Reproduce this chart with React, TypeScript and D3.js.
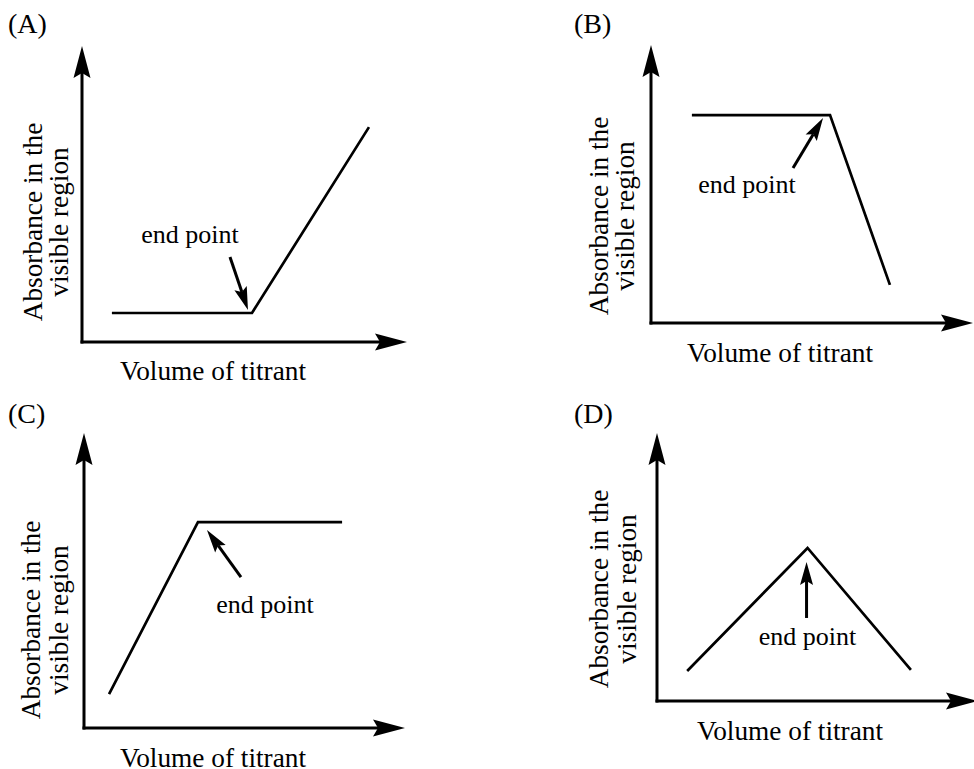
import React from 'react'
import * as d3 from 'd3'

// four sketches of absorbance vs. volume of titrant, axis units 0-10
const panelIds = ['A', 'B', 'C', 'D']

const volA = [0.92, 5.23, 8.83]
const absA = [0.98, 0.98, 7.26]

const volB = [1.27, 5.56, 7.42]
const absB = [7.48, 7.48, 1.37]

const volC = [0.78, 3.55, 8.04]
const absC = [1.15, 6.98, 6.98]

const volD = [0.94, 4.69, 7.91]
const absD = [1.12, 5.71, 1.16]

// which point of each curve is the end point
const endIndex = [1, 1, 1, 1]

const xLabel = 'Volume of titrant'
const yLabelLines = ['Absorbance in the', 'visible region']
const endLabel = 'end point'

const volumes = [volA, volB, volC, volD]
const absorbances = [absA, absB, absC, absD]

const FONT = "'Liberation Serif', 'DejaVu Serif', serif"

// layout of each panel (pixels)
const layouts = [
  { ox: 82, oy: 342, xTip: 407, yTip: 46, lx: 8, ly: 33, yl1: 40, yl2: 14, ylMid: 120, xlDx: 131, xlDy: 38, tip: [-4, -3], tail: [-22, -56], txt: [-62, -70] },
  { ox: 651, oy: 323, xTip: 973, yTip: 45, lx: 574, ly: 33, yl1: 43, yl2: 17, ylMid: 107, xlDx: 129, xlDy: 39, tip: [-7, 3], tail: [-37, 53], txt: [-83, 78] },
  { ox: 84, oy: 728, xTip: 405, yTip: 433, lx: 8, ly: 423, yl1: 44, yl2: 16, ylMid: 108, xlDx: 129, xlDy: 39, tip: [9, 8], tail: [43, 55], txt: [67, 91] },
  { ox: 657, oy: 701, xTip: 978, yTip: 433, lx: 574, ly: 423, yl1: 49, yl2: 21, ylMid: 112, xlDx: 133, xlDy: 39, tip: [-1, 14], tail: [-1, 70], txt: [0, 97] }
]

// notched arrowhead pointing from (fx,fy) to (tx,ty)
function arrowHead (fx: number, fy: number, tx: number, ty: number, len: number, half: number, notch: number) {
  const d = Math.hypot(tx - fx, ty - fy)
  const ux = (tx - fx) / d
  const uy = (ty - fy) / d
  const nx = -uy
  const ny = ux
  const bx = tx - ux * len
  const by = ty - uy * len
  const mx = tx - ux * (len - notch)
  const my = ty - uy * (len - notch)
  const path = d3.path()
  path.moveTo(tx, ty)
  path.lineTo(bx + nx * half, by + ny * half)
  path.lineTo(mx, my)
  path.lineTo(bx - nx * half, by - ny * half)
  path.closePath()
  return { d: path.toString(), mx, my }
}

const axisText = { fontFamily: FONT, fontSize: 27.3 }
const noteText = { fontFamily: FONT, fontSize: 26 }
const tagText = { fontFamily: FONT, fontSize: 28 }

function Panel ({ i }: { i: number }) {
  const L = layouts[i]
  const x = d3.scaleLinear().domain([0, 10]).range([L.ox, L.xTip])
  const y = d3.scaleLinear().domain([0, 10]).range([L.oy, L.yTip])

  const pts: [number, number][] = volumes[i].map((v, k) => [v, absorbances[i][k]])
  const line = d3.line<[number, number]>()
    .x(d => x(d[0]))
    .y(d => y(d[1]))

  const yHead = arrowHead(x(0), y(0), x(0), y(10), 32, 8.5, 5)
  const xHead = arrowHead(x(0), y(0), x(10), y(0), 32, 8.5, 5)

  const ep = pts[endIndex[i]]
  const ex = x(ep[0])
  const ey = y(ep[1])
  const tipX = ex + L.tip[0]
  const tipY = ey + L.tip[1]
  const tailX = ex + L.tail[0]
  const tailY = ey + L.tail[1]
  const eHead = arrowHead(tailX, tailY, tipX, tipY, 23, 6.5, 4)

  const ylx1 = L.ox - L.yl1
  const ylx2 = L.ox - L.yl2
  const yly = L.oy - L.ylMid

  return (
    <g>
      <text x={L.lx} y={L.ly} style={tagText}>({panelIds[i]})</text>

      {/* axes */}
      <line x1={x(0)} y1={y(0)} x2={x(0)} y2={yHead.my} stroke='#000' strokeWidth={3} strokeLinecap='square' />
      <line x1={x(0)} y1={y(0)} x2={xHead.mx} y2={y(0)} stroke='#000' strokeWidth={3} strokeLinecap='square' />
      <path d={yHead.d} fill='#000' />
      <path d={xHead.d} fill='#000' />

      {/* curve */}
      <path d={line(pts) || ''} fill='none' stroke='#000' strokeWidth={2.7} strokeLinejoin='miter' />

      {/* end point annotation */}
      <line x1={tailX} y1={tailY} x2={eHead.mx} y2={eHead.my} stroke='#000' strokeWidth={3} />
      <path d={eHead.d} fill='#000' />
      <text x={ex + L.txt[0]} y={ey + L.txt[1]} textAnchor='middle' style={noteText}>{endLabel}</text>

      {/* axis labels */}
      <text transform={`translate(${ylx1},${yly}) rotate(-90)`} textAnchor='middle' style={axisText}>{yLabelLines[0]}</text>
      <text transform={`translate(${ylx2},${yly}) rotate(-90)`} textAnchor='middle' style={axisText}>{yLabelLines[1]}</text>
      <text x={L.ox + L.xlDx} y={L.oy + L.xlDy} textAnchor='middle' style={axisText}>{xLabel}</text>
    </g>
  )
}

export default function App () {
  return (
    <svg
      width={974}
      height={769}
      style={{ position: 'absolute', left: 0, top: 0, display: 'block', background: '#fff' }}
    >
      <rect width={974} height={769} fill='#fff' />
      {panelIds.map((id, i) => <Panel key={id} i={i} />)}
    </svg>
  )
}
